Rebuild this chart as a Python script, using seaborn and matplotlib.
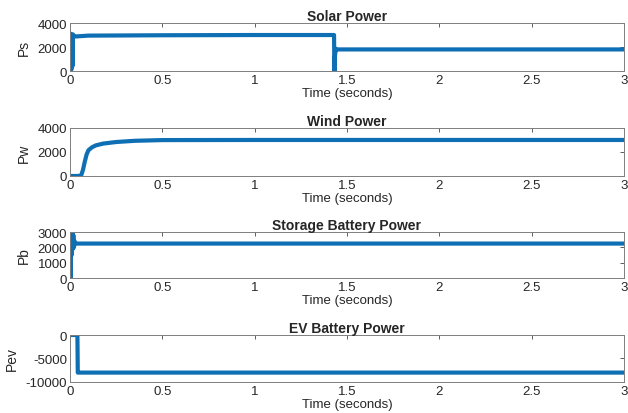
import matplotlib
matplotlib.use("Agg")
import matplotlib.pyplot as plt
import seaborn as sns
import pandas as pd

# Simulated power traces of the hybrid system (time in seconds, power in W)
solar_t = [0, 0.004, 0.007, 0.010, 0.013, 0.016, 0.020, 0.030, 0.10, 0.50, 1.0, 1.430, 1.432, 1.435, 1.440, 1.450, 2.0, 3.0]
solar_p = [0, 3100, 100, 3000, 400, 3050, 2900, 2880, 2950, 2980, 3000, 3000, 0, 1300, 1850, 1800, 1800, 1800]

wind_t = [0, 0.04, 0.06, 0.07, 0.08, 0.09, 0.10, 0.12, 0.14, 0.18, 0.25, 0.35, 0.50, 1.0, 2.0, 3.0]
wind_p = [0, 0, 30, 500, 1200, 1800, 2150, 2400, 2550, 2700, 2830, 2930, 2990, 3000, 3000, 3000]

batt_t = [0, 0.002, 0.004, 0.006, 0.009, 0.012, 0.015, 0.018, 0.021, 0.025, 0.030, 1.0, 3.0]
batt_p = [0, 1200, 0, 3000, 1500, 3000, 1900, 2800, 2000, 2400, 2250, 2250, 2250]

ev_t = [0, 0.040, 0.042, 0.05, 1.0, 3.0]
ev_p = [0, 0, -8000, -8000, -8000, -8000]

panels = [
    ("Solar Power", "Ps", solar_t, solar_p, (0, 4000), [0, 2000, 4000]),
    ("Wind Power", "Pw", wind_t, wind_p, (0, 4000), [0, 2000, 4000]),
    ("Storage Battery Power", "Pb", batt_t, batt_p, (0, 3000), [0, 1000, 2000, 3000]),
    ("EV Battery Power", "Pev", ev_t, ev_p, (-10000, 0), [-10000, -5000, 0]),
]

sns.set_style("white")
plt.rcParams["font.family"] = ["Liberation Sans", "DejaVu Sans"]

fig = plt.figure(figsize=(6.28, 4.14), dpi=100)
boxes = [
    (0.1115, 0.826, 0.882, 0.116),
    (0.1115, 0.5725, 0.882, 0.116),
    (0.1115, 0.326, 0.882, 0.111),
    (0.1115, 0.0749, 0.882, 0.1135),
]

blue = "#0f6fb4"
for (title, ylab, t, p, ylim, yticks), box in zip(panels, boxes):
    ax = fig.add_axes(box)
    df = pd.DataFrame({"Time": t, "Power": p})
    sns.lineplot(data=df, x="Time", y="Power", ax=ax, color=blue, linewidth=3.0,
                 estimator=None, sort=False)
    ax.set_xlim(0, 3)
    ax.set_ylim(*ylim)
    ax.set_xticks([0, 0.5, 1, 1.5, 2, 2.5, 3])
    ax.set_xticklabels(["0", "0.5", "1", "1.5", "2", "2.5", "3"])
    ax.set_yticks(yticks)
    ax.set_yticklabels([str(v) for v in yticks])
    ax.set_title(title, fontsize=10, fontweight="bold", pad=2)
    ax.set_xlabel("Time (seconds)", fontsize=9.5, labelpad=1)
    ax.set_ylabel(ylab, fontsize=10, labelpad=5)
    ax.tick_params(axis="both", direction="in", length=3, width=0.6, color="#444444",
                   labelsize=9.5, pad=2, top=True, right=True)
    for s in ax.spines.values():
        s.set_color("#7f7f7f")
        s.set_linewidth(0.7)

fig.savefig("out.png", dpi=100)
